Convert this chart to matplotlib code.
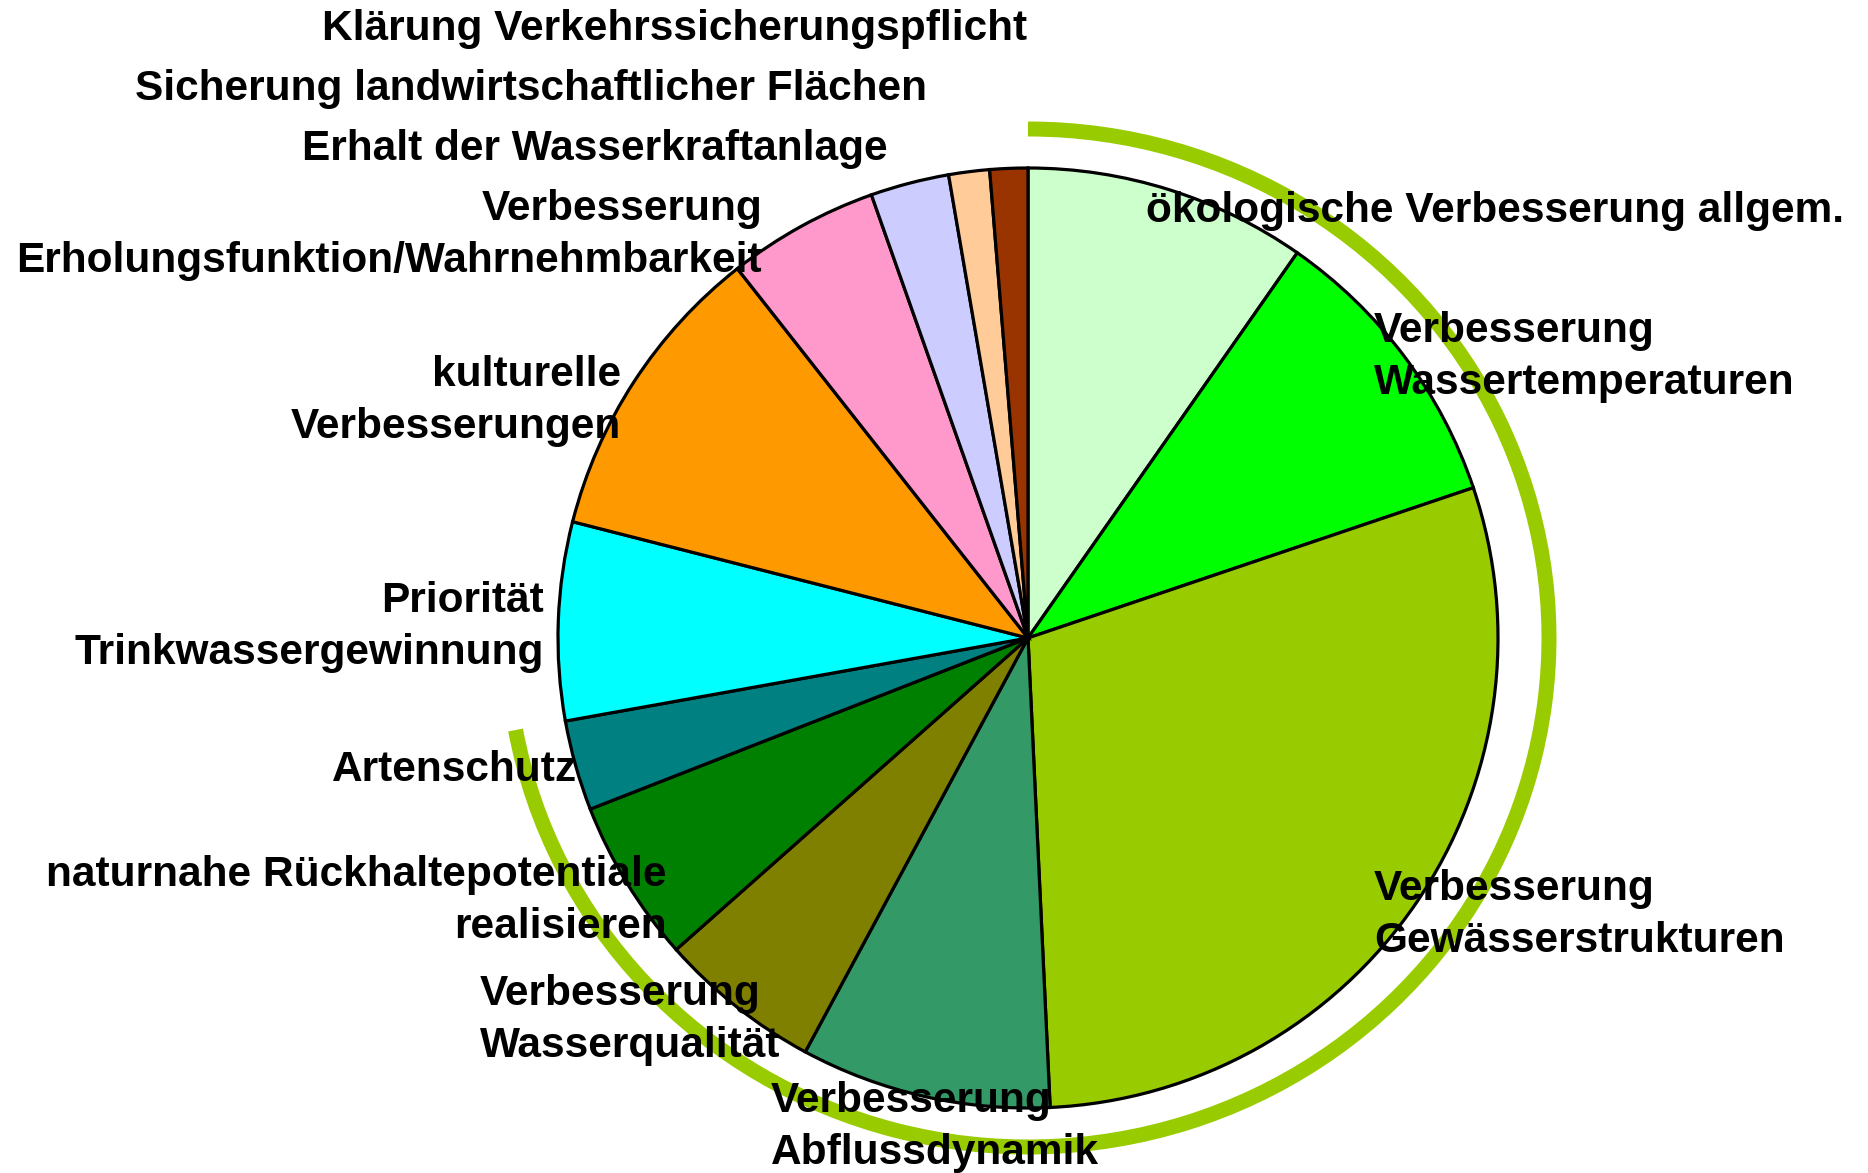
import matplotlib
matplotlib.use("Agg")
import matplotlib.pyplot as plt
from matplotlib.patches import Arc

# slice shares (percent), clockwise from 12 o'clock
labels = [
    "ökologische Verbesserung allgem.",
    "Verbesserung\nWassertemperaturen",
    "Verbesserung\nGewässerstrukturen",
    "Verbesserung\nAbflussdynamik",
    "Verbesserung\nWasserqualität",
    "naturnahe Rückhaltepotentiale\nrealisieren",
    "Artenschutz",
    "Priorität\nTrinkwassergewinnung",
    "kulturelle\nVerbesserungen",
    "Verbesserung\nErholungsfunktion/Wahrnehmbarkeit",
    "Erhalt der Wasserkraftanlage",
    "Sicherung landwirtschaftlicher Flächen",
    "Klärung Verkehrssicherungspflicht",
]
values = [9.7, 10.1, 29.4, 8.6, 5.6, 5.6, 3.1, 6.8, 10.4, 5.2, 2.7, 1.4, 1.3]
colors = ["#CCFFCC", "#00FF00", "#99CC00", "#339966", "#808000", "#008000",
          "#008080", "#00FFFF", "#FF9900", "#FF99CC", "#CCCCFF", "#FFCC99", "#993300"]
n_highlight = 7  # ecological group marked by the outer arc

W, H = 1868, 1173
cx, cy = 1028, H - 638
radius = 470

# label anchor (x, first baseline from top, alignment)
label_pos = [
    (1146, 222, "left"),
    (1374, 342, "left"),
    (1374, 900, "left"),
    (771, 1112, "left"),
    (480, 1005, "left"),
    (667, 886, "right"),
    (577, 781, "right"),
    (544, 612, "right"),
    (621, 386, "right"),
    (762, 220, "right"),
    (888, 160, "right"),
    (927, 100, "right"),
    (1027, 40, "right"),
]
line_step = 52

fig = plt.figure(figsize=(W / 100, H / 100), dpi=100)
ax = fig.add_axes([0, 0, 1, 1])

ax.pie(values, colors=colors, startangle=90, counterclock=False,
       center=(cx, cy), radius=radius,
       wedgeprops=dict(edgecolor="black", linewidth=2.3))

share = sum(values[:n_highlight]) / sum(values) * 360
arc = Arc((cx, cy), width=1042, height=1018, theta1=90 - share, theta2=90,
          color="#99CC00", linewidth=10.8, zorder=1)
ax.add_patch(arc)

for lab, (x, base, ha) in zip(labels, label_pos):
    for i, line in enumerate(lab.split("\n")):
        ax.text(x, H - (base + i * line_step), line, ha=ha, va="baseline",
                fontsize=30.5, fontweight="bold", family="Liberation Sans",
                zorder=5)

ax.set_xlim(0, W)
ax.set_ylim(0, H)
ax.set_aspect("auto")
ax.axis("off")

fig.savefig("out.png", dpi=100)
